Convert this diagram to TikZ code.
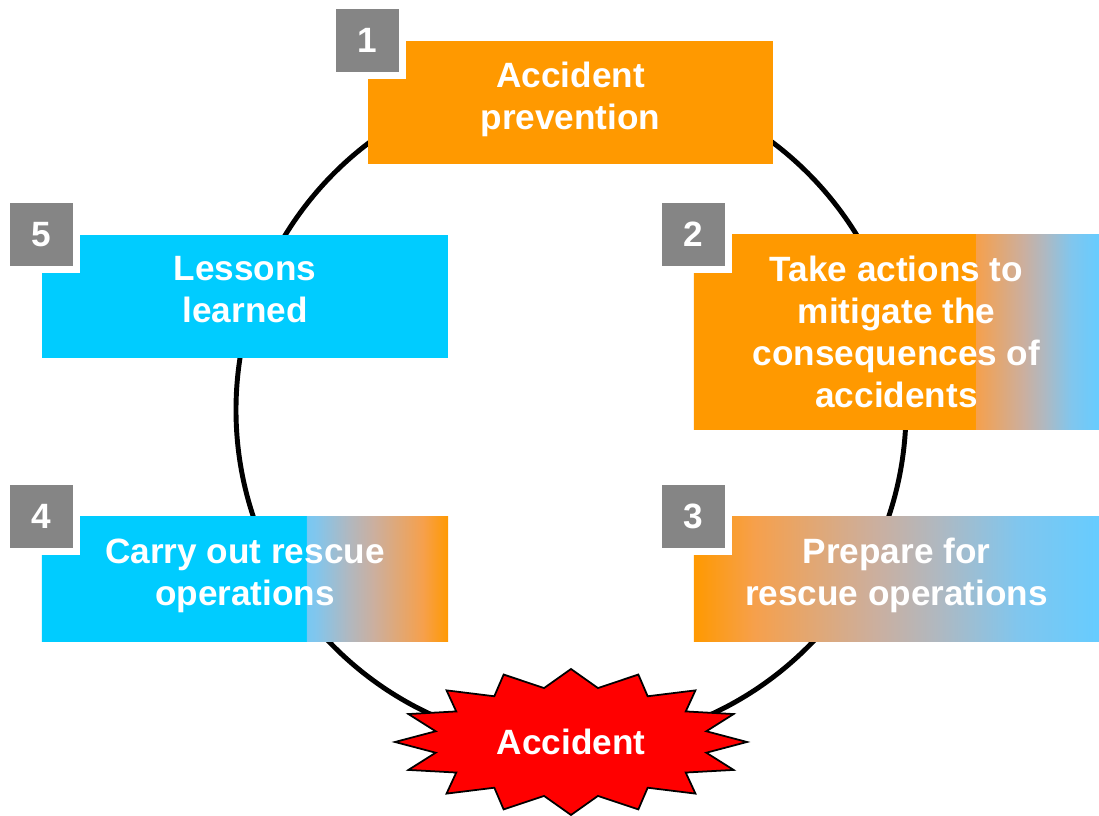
\documentclass[tikz,border=0pt]{standalone}
\usepackage{fontspec}
\setmainfont{Liberation Sans}
\definecolor{accorange}{HTML}{FF9900}
\definecolor{accfade}{HTML}{F6A04C}
\definecolor{accsand}{HTML}{CBAF9F}
\definecolor{accgrey}{HTML}{B0B8C0}
\definecolor{accsky}{HTML}{80C6EE}
\definecolor{acclight}{HTML}{78C8F2}
\definecolor{acccyan}{HTML}{00CCFF}
\definecolor{accblue}{HTML}{66CCFF}
\definecolor{accgray}{HTML}{858585}
\pgfdeclarehorizontalshading{prepshade}{100bp}{color(0bp)=(accorange); color(25bp)=(accorange); color(32.5bp)=(accfade); color(47.5bp)=(accsand); color(55bp)=(accgrey); color(65bp)=(accsky); color(75bp)=(accblue); color(100bp)=(accblue)}
\pgfdeclarehorizontalshading{mitigshade}{100bp}{color(0bp)=(accorange); color(59.7bp)=(accorange); color(59.8bp)=(accfade); color(65.7bp)=(accsand); color(68.2bp)=(accgrey); color(71.6bp)=(accsky); color(75bp)=(accblue); color(100bp)=(accblue)}
\pgfdeclarehorizontalshading{rescueshade}{100bp}{color(0bp)=(acccyan); color(57.5bp)=(acccyan); color(57.6bp)=(acclight); color(58.6bp)=(accsky); color(62.7bp)=(accgrey); color(65.8bp)=(accsand); color(71.9bp)=(accfade); color(75bp)=(accorange); color(100bp)=(accorange)}
\tikzset{
	stepbox/.style={minimum width=4.05cm, minimum height=1.23cm, inner sep=0pt, align=center, text depth=4pt, text=white, font=\bfseries\fontsize{10}{11.9}\selectfont},
	numbox/.style={fill=accgray, draw=white, line width=2pt, minimum size=0.70cm, inner sep=0pt, text=white, font=\bfseries\fontsize{10}{12}\selectfont},
	burst/.style={fill=red, draw=black, line width=0.5pt, line join=miter},
}
\begin{document}
\begin{tikzpicture}[x=0.01cm,y=-0.01cm]
	\useasboundingbox (0,0) rectangle (1099,816);

	\coordinate (ctr) at (571,410);
	\draw[line width=1.4pt] (ctr) circle [radius=335];

	\node[stepbox, fill=accorange] (prev) at (570.5,102.5) {Accident\\prevention};
	\node[stepbox, minimum height=1.94cm, text depth={}, shading=mitigshade] (mitig) at (896.5,332) {Take actions to\\mitigate the\\consequences of\\accidents};
	\node[stepbox, minimum height=1.24cm, shading=prepshade] (prep) at (896.5,579) {Prepare for\\rescue operations};
	\node[stepbox, minimum height=1.24cm, minimum width=4.06cm, shading=rescueshade] (rescue) at (245,579) {Carry out rescue\\operations};
	\node[stepbox, fill=acccyan] (lessons) at (245,296.5) {Lessons\\learned};

	\node[numbox] (n1) at (prev.north west) {1};
	\node[numbox] (n2) at (mitig.north west) {2};
	\node[numbox] (n3) at (prep.north west) {3};
	\node[numbox] (n4) at (rescue.north west) {4};
	\node[numbox] (n5) at (lessons.north west) {5};

	\draw[burst, shift={(571,742)}] (90:176 and 73) \foreach \i in {0,...,15}{ -- ({101.25+\i*22.5}:138 and 55) -- ({112.5+\i*22.5}:176 and 73)} -- cycle;
	\node[text=white, font=\bfseries\fontsize{10}{12}\selectfont] (acc) at (571,742) {Accident};
\end{tikzpicture}
\end{document}
